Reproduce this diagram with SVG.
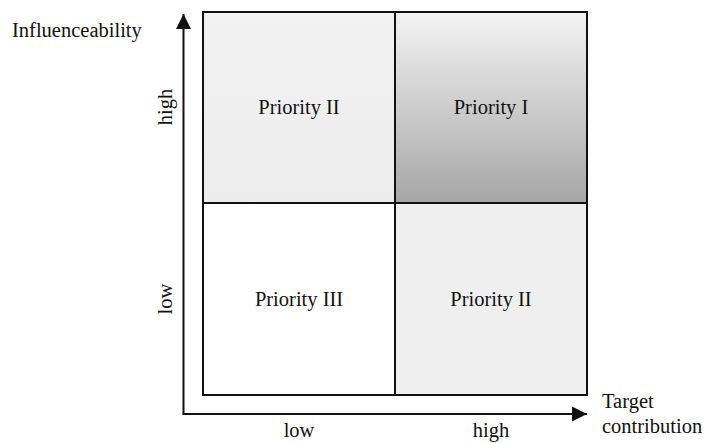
<svg xmlns="http://www.w3.org/2000/svg" width="704" height="443" viewBox="0 0 704 443">
<style>
text{font-family:"Times New Roman",Times,"Liberation Serif","DejaVu Serif","Noto Serif",serif;fill:#111;font-size:20.5px}
.lbl{text-anchor:middle}
.cell{stroke:#111;stroke-width:2}
.axis{stroke:#111;stroke-width:2;fill:none}
</style>
<defs>
<linearGradient id="g1" x1="0" y1="0" x2="0" y2="1">
<stop offset="0" stop-color="#f3f3f3"/>
<stop offset="1" stop-color="#a6a6a6"/>
</linearGradient>
<linearGradient id="g2" x1="0" y1="0" x2="0" y2="1">
<stop offset="0" stop-color="#f2f2f2"/>
<stop offset="1" stop-color="#ececec"/>
</linearGradient>
<marker id="arr" markerUnits="userSpaceOnUse" markerWidth="16" markerHeight="16" viewBox="0 0 16 16" refX="15" refY="8" orient="auto">
<path d="M0,0.5 L15,8 L0,15.5 Z" fill="#111"/>
</marker>
</defs>
<g id="connectors">
<path class="axis" d="M183.5,414 L183.5,14" marker-end="url(#arr)"/>
<path class="axis" d="M182.5,414 L587,414" marker-end="url(#arr)"/>
</g>
<g id="q-top-left">
<rect class="cell" x="203" y="12" width="192" height="191" fill="url(#g2)"/>
<text class="lbl" x="299" y="114">Priority II</text>
</g>
<g id="q-top-right">
<rect class="cell" x="395" y="12" width="192" height="191" fill="url(#g1)"/>
<text class="lbl" x="491" y="114">Priority I</text>
</g>
<g id="q-bottom-left">
<rect class="cell" x="203" y="203" width="192" height="192" fill="#ffffff"/>
<text class="lbl" x="299" y="306">Priority III</text>
</g>
<g id="q-bottom-right">
<rect class="cell" x="395" y="203" width="192" height="192" fill="#efefef"/>
<text class="lbl" x="491" y="306">Priority II</text>
</g>
<g id="axis-labels">
<text x="12" y="37">Influenceability</text>
<text class="lbl" transform="translate(172,107) rotate(-90)">high</text>
<text class="lbl" transform="translate(172,299) rotate(-90)">low</text>
<text class="lbl" x="299" y="437">low</text>
<text class="lbl" x="491" y="437">high</text>
<text x="602" y="408">Target</text>
<text x="602" y="433">contribution</text>
</g>
</svg>
